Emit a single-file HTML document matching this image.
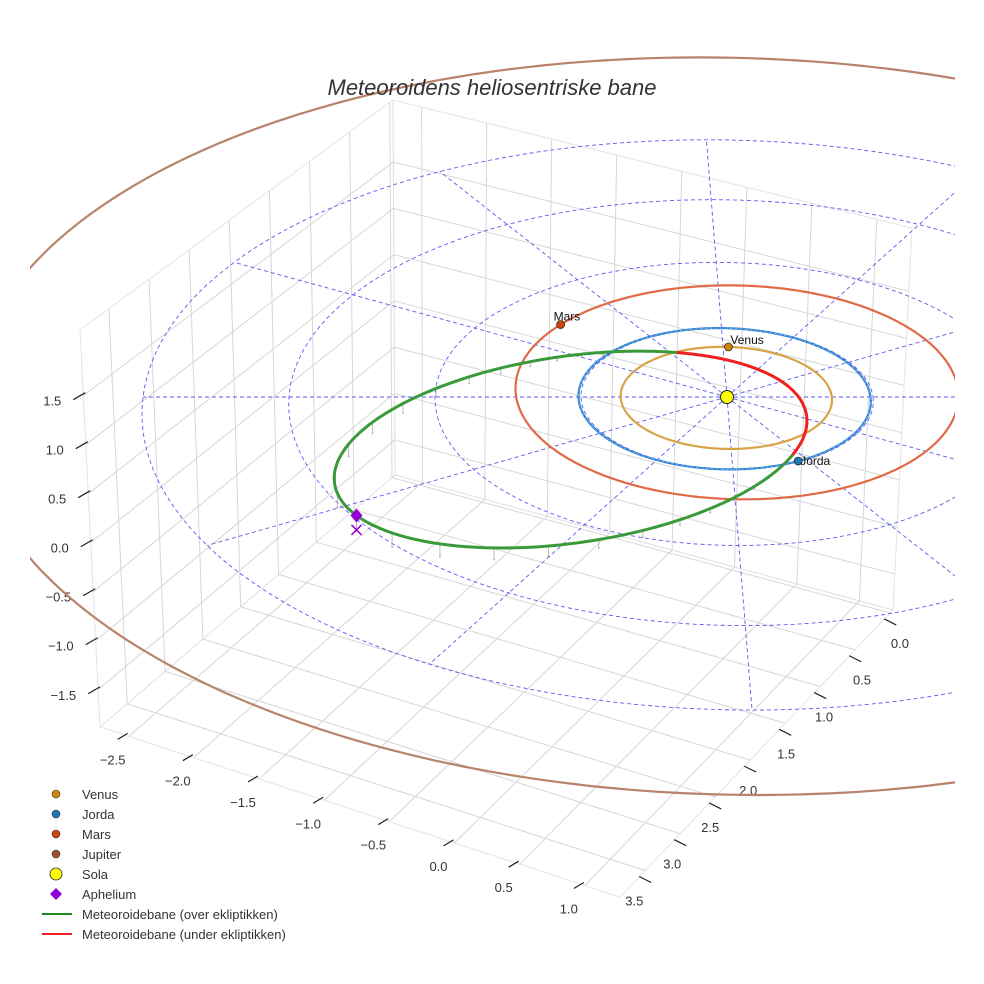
<!DOCTYPE html>
<html><head><meta charset="utf-8"><style>
html,body{margin:0;padding:0;background:#fff}
svg{display:block;font-family:"Liberation Sans",sans-serif}
</style></head><body>
<svg id="chart" width="984" height="984" viewBox="0 0 984 984" xmlns="http://www.w3.org/2000/svg">
<defs><clipPath id="clip"><rect x="30" y="0" width="925" height="984"/></clipPath></defs>
<rect width="984" height="984" fill="#fff"/>
<g id="grid"></g>
<g id="plot" clip-path="url(#clip)"></g>
<text x="492" y="95" text-anchor="middle" font-size="22" font-style="italic" fill="#333">Meteoroidens heliosentriske bane</text>
<g id="legend"></g>
</svg>
<script>
// ---- data ----
const planetNames = ['Venus','Jorda','Mars','Jupiter'];
const planetA = [0.723, 1.0, 1.524, 5.203];
const planetE = [0.007, 0.017, 0.093, 0.048];
const planetPeri = [0, 0, 120, 90];
const planetAngle = [-87, 63.5, -137, -30];
const ringRadii = [1, 2, 3, 4];
const radialAngles = [0,30,60,90,120,150,180,210,240,270,300,330];
const meteorE = 0.74;
const meteorP = 0.80;
const meteorPeriDir = -35.8;
const meteorInc = 2.6;
const meteorAscNu = 98.3;
const xTicks = [-2.5,-2.0,-1.5,-1.0,-0.5,0.0,0.5,1.0];
const yTicks = [0.0,0.5,1.0,1.5,2.0,2.5,3.0,3.5];
const zTicks = [-1.5,-1.0,-0.5,0.0,0.5,1.0,1.5];
const xRange = [-2.72, 1.27];
const yRange = [-0.04, 3.86];
const zRange = [-1.88, 2.17];

const NS='http://www.w3.org/2000/svg';
function mk(tag, attrs, parent){const e=document.createElementNS(NS,tag);for(const k in attrs)e.setAttribute(k,attrs[k]);parent.appendChild(e);return e;}
const rad=d=>d*Math.PI/180;
function P(u,v,z){const s=1/(1-0.0245*v);const py=397+70.6*v*s;const sx=727+146*u*s+0.08*(py-397);return [sx,py-100*z*s];}
function ptsStr(a){return a.map(p=>p[0].toFixed(1)+','+p[1].toFixed(1)).join(' ');}

// ---- axes box ----
const grid=document.getElementById('grid');
const A=[100,727],B=[620,897],C=[893,610],D=[395,475],Dp=[393,100],Ap=[80,330],Cp=[912,228];
const L=(p,q,t)=>[p[0]+(q[0]-p[0])*t,p[1]+(q[1]-p[1])*t];
function gl(p,q){const l=mk('line',{x1:p[0],y1:p[1],x2:q[0],y2:q[1],stroke:'#d6d6d6','stroke-width':1},grid);

}
[[A,B,C,D],[A,D,Dp,Ap],[D,C,Cp,Dp]].forEach(q=>{mk('polygon',{points:ptsStr(q),fill:'none',stroke:'#e4e4e4','stroke-width':1},grid);});
const fx=x=>(x-xRange[0])/(xRange[1]-xRange[0]);
const fy=y=>(y-yRange[0])/(yRange[1]-yRange[0]);
const fz=z=>(z-zRange[0])/(zRange[1]-zRange[0]);
xTicks.forEach(x=>{const t=fx(x);gl(L(A,B,t),L(D,C,t));gl(L(D,C,t),L(Dp,Cp,t));});
yTicks.forEach(y=>{const t=fy(y);gl(L(C,B,t),L(D,A,t));gl(L(D,A,t),L(Dp,Ap,t));});
zTicks.forEach(z=>{const t=fz(z);gl(L(A,Ap,t),L(D,Dp,t));gl(L(D,Dp,t),L(C,Cp,t));});
function tick(p,dx,dy,label,lx,ly,anchor,name){
 mk('line',{x1:p[0],y1:p[1],x2:p[0]+dx,y2:p[1]+dy,stroke:'#222','stroke-width':1.2},grid);
 const t=mk('text',{x:lx,y:ly,'font-size':13,fill:'#333','text-anchor':anchor},grid);t.textContent=label;
 
 
}
const fmt=v=>(v<0?'\u2212':'')+Math.abs(v).toFixed(1);
xTicks.forEach(x=>{const p=L(A,B,fx(x));tick([p[0]-1,p[1]-3],-10,6,fmt(x),p[0]-16,p[1]+28,'middle','x-tick-label');});
yTicks.forEach(y=>{const t=fy(y);const p=L(C,B,t);tick([p[0]-6,p[1]+6],12,6,fmt(y),p[0]+10-23*t,p[1]+35,'middle','y-tick-label');});
zTicks.forEach(z=>{const p=L(A,Ap,fz(z));tick([p[0]-10,p[1]+4],12,-7,fmt(z),p[0]-22,p[1]+10,'end','z-tick-label');});

// ---- plot ----
const plot=document.getElementById('plot');
ringRadii.forEach(r=>{const pts=[];for(let t=0;t<=360;t+=2)pts.push(P(r*Math.cos(rad(t)),r*Math.sin(rad(t)),0));
 const e=mk('polyline',{points:ptsStr(pts),fill:'none',stroke:'#5a5af0','stroke-width':0.9,'stroke-dasharray':'4,3'},plot);
 
 });
radialAngles.forEach(a=>{const r=ringRadii[ringRadii.length-1];const p=P(0,0,0),q=P(r*Math.cos(rad(a)),r*Math.sin(rad(a)),0);
 const e=mk('line',{x1:p[0],y1:p[1],x2:q[0],y2:q[1],stroke:'#5a5af0','stroke-width':0.9,'stroke-dasharray':'4,3'},plot);
 
 });
const orbitCol=['#d9a447','#2f80d4','#e06a45','#b8836a'];
const markCol=['#c8860b','#1f77b4','#cc4411','#a0522d'];
function planetPos(i,th){const a=planetA[i],e=planetE[i];const r=a*(1-e*e)/(1+e*Math.cos(rad(th-planetPeri[i])));return [r*Math.cos(rad(th)),r*Math.sin(rad(th))];}
planetNames.forEach((n,i)=>{const pts=[];for(let t=0;t<=360;t+=1){const q=planetPos(i,t);pts.push(P(q[0],q[1],0));}
 const e=mk('polyline',{points:ptsStr(pts),fill:'none',stroke:orbitCol[i],'stroke-width':2.2},plot);
 
 
 if(i===1){const e2=mk('polyline',{points:ptsStr(pts),fill:'none',stroke:'#7ab8e8','stroke-width':0.8,'stroke-dasharray':'3,2'},plot);
 
 }});
// meteoroid orbit
const mPts=[];
for(let nu=-180;nu<=180;nu+=1){const r=meteorP/(1+meteorE*Math.cos(rad(nu)));const th=meteorPeriDir+nu;
 const z=r*Math.sin(rad(meteorInc))*Math.sin(rad(nu-meteorAscNu));mPts.push({u:r*Math.cos(rad(th)),v:r*Math.sin(rad(th)),z:z,nu:nu});}
mPts.forEach((m,k)=>{if(m.z>0.01&&k%6===0){const a=P(m.u,m.v,m.z),b=P(m.u,m.v,0);
 const l=mk('line',{x1:a[0],y1:a[1],x2:b[0],y2:b[1],stroke:'#aaa','stroke-width':0.8},plot);
 
 
 mk('circle',{cx:b[0],cy:b[1],r:0.9,fill:'#aaa'},plot);}});
let seg=[],segUp=null;
function flush(){if(seg.length>1){const e=mk('polyline',{points:ptsStr(seg),fill:'none',stroke:segUp?'#3a9a3a':'#ee2020','stroke-width':3,'stroke-linejoin':'round'},plot);
 
 }}
mPts.forEach(m=>{const up=m.z>=0;const p=P(m.u,m.v,m.z);if(segUp!==null&&up!==segUp){seg.push(p);flush();seg=[p];}else seg.push(p);segUp=up;});
flush();
// planets
planetNames.forEach((n,i)=>{const q=planetPos(i,planetAngle[i]);const p=P(q[0],q[1],0);
 const c=mk('circle',{cx:p[0],cy:p[1],r:4,fill:markCol[i],stroke:'#222','stroke-width':0.7},plot);
 
 
 const t=mk('text',{x:p[0]+2,y:p[1]-3,'font-size':12,fill:'#111'},plot);t.textContent=n;
 
 
 if(i===2){t.setAttribute('x',p[0]-7);t.setAttribute('y',p[1]-4);}
 if(i===1){t.setAttribute('x',p[0]+2);t.setAttribute('y',p[1]+4);}});
// sun
const sp=P(0,0,0);
const sun=mk('circle',{cx:sp[0],cy:sp[1],r:6.5,fill:'#ffff00',stroke:'#222','stroke-width':1},plot);


// aphelion
const ap=mPts[0];const apP=P(ap.u,ap.v,ap.z),apB=P(ap.u,ap.v,0);
const dia=mk('polygon',{points:`${apP[0]},${apP[1]-7} ${apP[0]+6},${apP[1]} ${apP[0]},${apP[1]+7} ${apP[0]-6},${apP[1]}`,fill:'#9400d3'},plot);


const xm=mk('path',{d:`M${apB[0]-5},${apB[1]-5}L${apB[0]+5},${apB[1]+5}M${apB[0]-5},${apB[1]+5}L${apB[0]+5},${apB[1]-5}`,stroke:'#9400d3','stroke-width':1.5,fill:'none'},plot);



// ---- legend ----
const lg=document.getElementById('legend');
const legLabels=['Venus','Jorda','Mars','Jupiter','Sola','Aphelium','Meteoroidebane (over ekliptikken)','Meteoroidebane (under ekliptikken)'];
legLabels.forEach((lab,k)=>{const y=794+20*k;
 let m;
 if(k<4)m=mk('circle',{cx:56,cy:y,r:4,fill:markCol[k],stroke:'#333','stroke-width':0.6},lg);
 else if(k===4)m=mk('circle',{cx:56,cy:y,r:6,fill:'#ffff00',stroke:'#222','stroke-width':0.8},lg);
 else if(k===5)m=mk('polygon',{points:`56,${y-6} 62,${y} 56,${y+6} 50,${y}`,fill:'#9400d3'},lg);
 else m=mk('line',{x1:42,y1:y,x2:72,y2:y,stroke:k===6?'#1a8a1a':'#ee2020','stroke-width':2},lg);
 
 
 const t=mk('text',{x:82,y:y+5,'font-size':13,fill:'#333'},lg);t.textContent=lab;
 
 });
</script>
</body></html>
